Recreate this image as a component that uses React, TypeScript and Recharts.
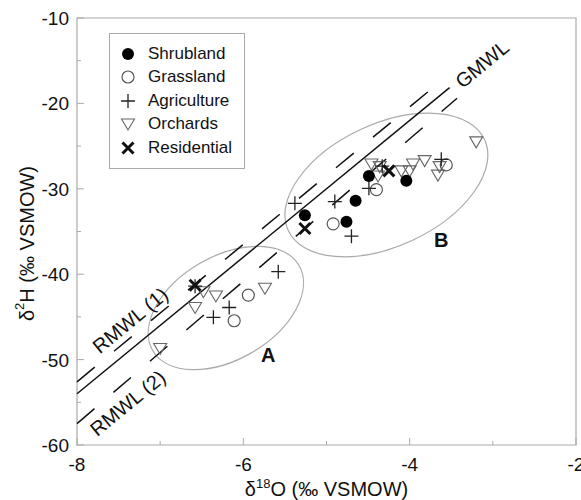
import React from "react";
import {
  ScatterChart,
  Scatter,
  XAxis,
  YAxis,
  ReferenceLine,
  ReferenceArea,
  ReferenceDot,
} from "recharts";

// samples, δ18O (x) vs δ2H (y)
const shrubland = [
  { x: -5.26, y: -33.1 },
  { x: -4.76, y: -33.85 },
  { x: -4.65, y: -31.4 },
  { x: -4.49, y: -28.5 },
  { x: -4.04, y: -29.05 },
];

const grassland = [
  { x: -4.92, y: -34.1 },
  { x: -4.4, y: -30.1 },
  { x: -3.56, y: -27.2 },
  { x: -5.94, y: -42.45 },
  { x: -6.11, y: -45.45 },
];

const agriculture = [
  { x: -5.38, y: -31.7 },
  { x: -4.9, y: -31.5 },
  { x: -4.7, y: -35.55 },
  { x: -4.49, y: -29.95 },
  { x: -4.33, y: -27.35 },
  { x: -3.62, y: -26.55 },
  { x: -5.58, y: -39.7 },
  { x: -6.17, y: -43.9 },
  { x: -6.36, y: -45.05 },
  { x: -6.58, y: -41.4 },
];

const orchards = [
  { x: -6.48, y: -42.05 },
  { x: -6.33, y: -42.55 },
  { x: -6.58, y: -43.9 },
  { x: -5.74, y: -41.65 },
  { x: -7.0, y: -48.7 },
  { x: -4.46, y: -27.1 },
  { x: -4.36, y: -27.4 },
  { x: -4.38, y: -28.5 },
  { x: -4.1, y: -27.9 },
  { x: -4.0, y: -27.9 },
  { x: -3.96, y: -27.1 },
  { x: -3.82, y: -26.7 },
  { x: -3.66, y: -28.4 },
  { x: -3.64, y: -27.4 },
  { x: -3.2, y: -24.5 },
];

const residential = [
  { x: -6.58, y: -41.3 },
  { x: -5.26, y: -34.65 },
  { x: -4.25, y: -27.9 },
];

// meteoric water lines (end points)
const gmwl = [
  { x: -8, y: -54 },
  { x: -3.52, y: -18.16 },
];
const rmwl1 = [
  { x: -8, y: -52.6 },
  { x: -3.75, y: -18.4 },
];
const rmwl2 = [
  { x: -8, y: -57.5 },
  { x: -3.43, y: -19.4 },
];

// group ellipses: major axis ends + minor/major ratio
const groupA = { ends: [{ x: -7.09, y: -48.93 }, { x: -5.33, y: -38.98 }], ratio: 0.61 };
const groupB = { ends: [{ x: -5.46, y: -34.89 }, { x: -3.1, y: -24.22 }], ratio: 0.565 };

const xTicks = [-8, -7, -6, -5, -4, -3, -2];
const yTicks = [-60, -55, -50, -45, -40, -35, -30, -25, -20, -15, -10];

const FONT = "Liberation Sans, Arial, Helvetica, sans-serif";
const LINE_ANGLE = -39.4;

const Dot = ({ cx, cy }: any) => <circle cx={cx} cy={cy} r={6} fill="#000" />;
const Ring = ({ cx, cy }: any) => (
  <circle cx={cx} cy={cy} r={6} fill="none" stroke="#555" strokeWidth={1.2} />
);
const Plus = ({ cx, cy }: any) => (
  <path d={`M${cx - 7},${cy}H${cx + 7}M${cx},${cy - 7}V${cy + 7}`} stroke="#222" strokeWidth={1.3} />
);
const Tri = ({ cx, cy }: any) => (
  <path
    d={`M${cx - 6.5},${cy - 5}L${cx + 6.5},${cy - 5}L${cx},${cy + 6}Z`}
    fill="none"
    stroke="#666"
    strokeWidth={1.1}
  />
);
const Cross = ({ cx, cy }: any) => (
  <path
    d={`M${cx - 5.5},${cy - 5.5}L${cx + 5.5},${cy + 5.5}M${cx - 5.5},${cy + 5.5}L${cx + 5.5},${cy - 5.5}`}
    stroke="#111"
    strokeWidth={3}
  />
);

const legendItems = [
  { name: "Shrubland", Shape: Dot },
  { name: "Grassland", Shape: Ring },
  { name: "Agriculture", Shape: Plus },
  { name: "Orchards", Shape: Tri },
  { name: "Residential", Shape: Cross },
];

const XTick = ({ x, y, payload }: any) => {
  const major = payload.value % 2 === 0;
  return (
    <g>
      <line x1={x} x2={x} y1={y} y2={y - (major ? 7 : 4)} stroke="#aaa" />
      {major && (
        <text x={x} y={y + 26} textAnchor="middle" fontSize={19} fill="#111" fontFamily={FONT}>
          {payload.value}
        </text>
      )}
    </g>
  );
};

const YTick = ({ x, y, payload }: any) => {
  const major = payload.value % 10 === 0;
  return (
    <g>
      <line x1={x} x2={x + (major ? 7 : 4)} y1={y} y2={y} stroke="#aaa" />
      {major && (
        <text x={x - 8} y={y + 7} textAnchor="end" fontSize={19} fill="#111" fontFamily={FONT}>
          {payload.value}
        </text>
      )}
    </g>
  );
};

const XTitle = ({ viewBox }: any) => (
  <text
    x={viewBox.x + viewBox.width / 2}
    y={viewBox.y + 51}
    textAnchor="middle"
    fontSize={20}
    fill="#111"
    fontFamily={FONT}
  >
    δ<tspan fontSize={13} dy={-8}>18</tspan>
    <tspan dy={8}>O (‰ VSMOW)</tspan>
  </text>
);

const YTitle = ({ viewBox }: any) => {
  const cx = 27;
  const cy = viewBox.y + viewBox.height / 2 + 12;
  return (
    <text
      x={cx}
      y={cy}
      transform={`rotate(-90 ${cx} ${cy})`}
      textAnchor="middle"
      dominantBaseline="central"
      fontSize={20}
      fill="#111"
      fontFamily={FONT}
    >
      δ<tspan fontSize={13} dy={-8}>2</tspan>
      <tspan dy={8}>H (‰ VSMOW)</tspan>
    </text>
  );
};

const makeEllipse = (ratio: number) => (p: any) => {
  const { x1, y1, x2, y2 } = p;
  const cx = (x1 + x2) / 2;
  const cy = (y1 + y2) / 2;
  const rx = Math.hypot(x2 - x1, y2 - y1) / 2;
  const ang = (Math.atan2(y2 - y1, x2 - x1) * 180) / Math.PI;
  return (
    <ellipse
      cx={cx}
      cy={cy}
      rx={rx}
      ry={rx * ratio}
      transform={`rotate(${ang} ${cx} ${cy})`}
      fill="none"
      stroke="#aaa"
      strokeWidth={1.2}
    />
  );
};

const rotatedText = (text: string, bold = false, angle = LINE_ANGLE) => (p: any) => (
  <text
    x={p.cx}
    y={p.cy}
    transform={angle ? `rotate(${angle} ${p.cx} ${p.cy})` : undefined}
    textAnchor="middle"
    dominantBaseline="central"
    fontSize={20}
    fontWeight={bold ? "bold" : "normal"}
    fill="#111"
    fontFamily={FONT}
  >
    {text}
  </text>
);

export default function App() {
  return (
    <div style={{ position: "absolute", left: 0, top: 0, width: 581, height: 500, background: "#fff" }}>
      <ScatterChart width={581} height={500} margin={{ top: 18, right: 5, bottom: 0, left: 0 }}>
        <XAxis
          type="number"
          dataKey="x"
          domain={[-8, -2]}
          ticks={xTicks}
          axisLine={false}
          tickLine={false}
          tickSize={0}
          tickMargin={0}
          height={55}
          tick={<XTick />}
          interval={0}
          label={{ content: <XTitle /> } as any}
        />
        <YAxis
          type="number"
          dataKey="y"
          domain={[-60, -10]}
          ticks={yTicks}
          axisLine={false}
          tickLine={false}
          tickSize={0}
          tickMargin={0}
          width={77}
          tick={<YTick />}
          interval={0}
          label={{ content: <YTitle /> } as any}
        />
        <ReferenceArea x1={-8} x2={-2} y1={-60} y2={-10} fill="none" stroke="#aaa" strokeWidth={1.2} />
        <ReferenceLine segment={groupA.ends} shape={makeEllipse(groupA.ratio)} ifOverflow="visible" />
        <ReferenceLine segment={groupB.ends} shape={makeEllipse(groupB.ratio)} ifOverflow="visible" />
        <ReferenceLine segment={gmwl} stroke="#111" strokeWidth={1.5} ifOverflow="visible" />
        <ReferenceLine segment={rmwl1} stroke="#111" strokeWidth={1.5} strokeDasharray="23 25" ifOverflow="visible" />
        <ReferenceLine segment={rmwl2} stroke="#111" strokeWidth={1.5} strokeDasharray="23 25" ifOverflow="visible" />
        <ReferenceDot x={-3.13} y={-15.4} r={0} shape={rotatedText("GMWL")} />
        <ReferenceDot x={-7.36} y={-45.4} r={0} shape={rotatedText("RMWL (1)")} />
        <ReferenceDot x={-7.39} y={-55.1} r={0} shape={rotatedText("RMWL (2)")} />
        <ReferenceDot x={-5.7} y={-49.5} r={0} shape={rotatedText("A", true, 0)} />
        <ReferenceDot x={-3.62} y={-36.0} r={0} shape={rotatedText("B", true, 0)} />
        <Scatter name="Orchards" data={orchards} shape={Tri} isAnimationActive={false} />
        <Scatter name="Grassland" data={grassland} shape={Ring} isAnimationActive={false} />
        <Scatter name="Agriculture" data={agriculture} shape={Plus} isAnimationActive={false} />
        <Scatter name="Shrubland" data={shrubland} shape={Dot} isAnimationActive={false} />
        <Scatter name="Residential" data={residential} shape={Cross} isAnimationActive={false} />
      </ScatterChart>
      <div
        style={{
          position: "absolute",
          left: 109,
          top: 33,
          width: 136,
          height: 136,
          border: "1px solid #aaa",
          background: "#fff",
          fontFamily: FONT,
          fontSize: 17,
          color: "#111",
          boxSizing: "border-box",
          paddingTop: 8,
        }}
      >
        {legendItems.map(({ name, Shape }) => (
          <div key={name} style={{ display: "flex", alignItems: "center", height: 23.5 }}>
            <svg width={38} height={20} style={{ flex: "none" }}>
              <Shape cx={18} cy={10} />
            </svg>
            <span>{name}</span>
          </div>
        ))}
      </div>
    </div>
  );
}
